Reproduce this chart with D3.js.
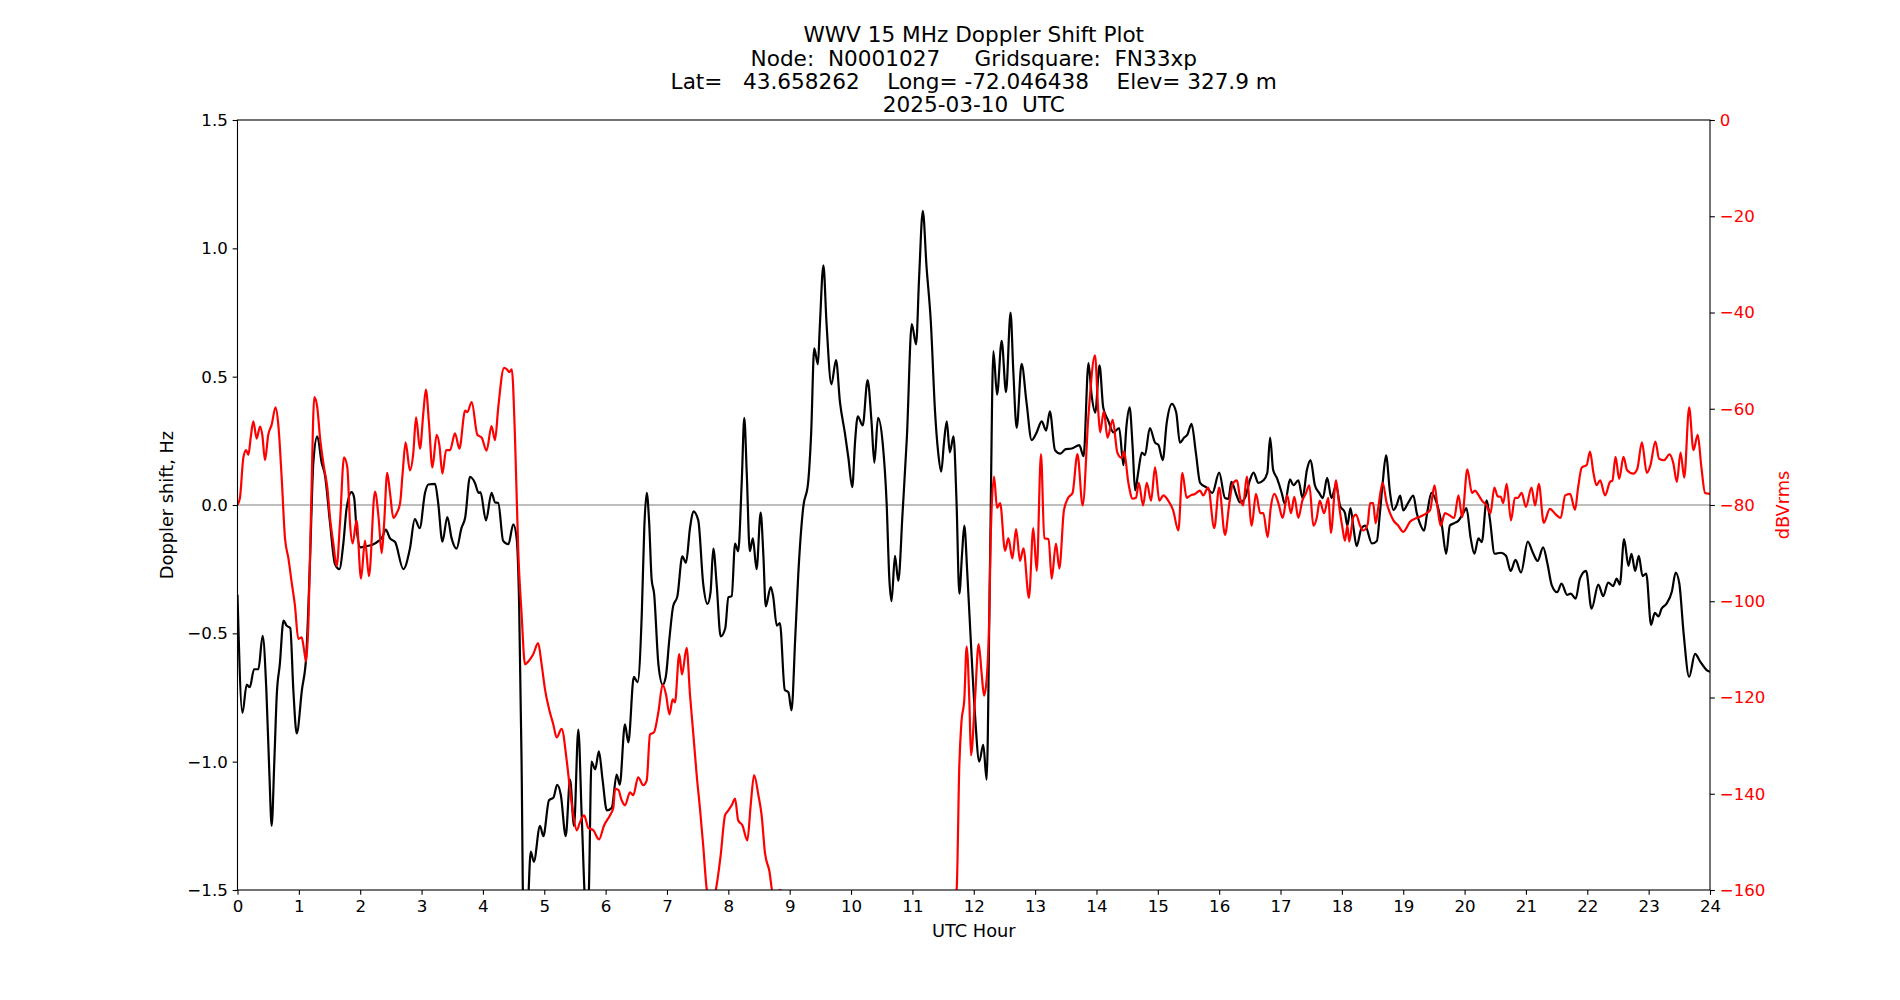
<!DOCTYPE html>
<html>
<head>
<meta charset="utf-8">
<script src="https://cdn.jsdelivr.net/npm/d3@7"></script>
<style>
  body { margin: 0; background: #fff; }
  svg { font-family: "DejaVu Sans", sans-serif; }
  .tick text { font-family: "DejaVu Sans", sans-serif; }
</style>
</head>
<body>
<div id="vis"></div>
<script>
// UTC hour ticks and the two y tick sets
const hourTicks = d3.range(0, 25);
const dopplerTicks = [-1.5, -1.0, -0.5, 0.0, 0.5, 1.0, 1.5];
const powerTicks = [0, -20, -40, -60, -80, -100, -120, -140, -160];

const titleLines = [
  "WWV 15 MHz Doppler Shift Plot",
  "Node:  N0001027     Gridsquare:  FN33xp",
  "Lat=   43.658262    Long= -72.046438    Elev= 327.9 m",
  "2025-03-10  UTC"
];

// Doppler shift (Hz) vs UTC hour
const dopplerHz = [
[0.0,-0.35],[0.08,-0.81],[0.15,-0.70],[0.2,-0.71],[0.27,-0.64],[0.34,-0.64],[0.41,-0.51],[0.47,-0.72],[0.52,-1.05],[0.557,-1.25],[0.6,-1.0],[0.64,-0.74],[0.69,-0.62],[0.75,-0.45],[0.8,-0.47],[0.86,-0.48],[0.91,-0.72],[0.965,-0.89],[1.05,-0.72],[1.12,-0.59],[1.18,-0.23],[1.236,0.165],[1.30,0.267],[1.372,0.165],[1.426,0.116],[1.508,-0.07],[1.589,-0.23],[1.66,-0.25],[1.725,-0.15],[1.78,-0.01],[1.86,0.05],[1.90,0.03],[1.94,-0.09],[2.007,-0.165],[2.1,-0.16],[2.2,-0.155],[2.3,-0.14],[2.36,-0.125],[2.415,-0.096],[2.486,-0.13],[2.57,-0.145],[2.703,-0.25],[2.81,-0.17],[2.89,-0.055],[2.97,-0.09],[3.056,0.047],[3.11,0.08],[3.22,0.082],[3.27,0.01],[3.34,-0.143],[3.42,-0.047],[3.49,-0.13],[3.57,-0.17],[3.65,-0.09],[3.71,-0.05],[3.79,0.11],[3.87,0.086],[3.93,0.047],[3.96,0.05],[4.05,-0.06],[4.14,0.047],[4.2,0.01],[4.25,0.008],[4.33,-0.14],[4.415,-0.153],[4.495,-0.075],[4.55,-0.13],[4.59,-0.385],[4.63,-1.0],[4.66,-1.6],[4.72,-1.6],[4.78,-1.35],[4.83,-1.39],[4.93,-1.25],[4.985,-1.29],[5.077,-1.15],[5.15,-1.14],[5.21,-1.09],[5.27,-1.13],[5.35,-1.29],[5.42,-1.07],[5.485,-1.25],[5.555,-0.875],[5.61,-1.21],[5.68,-1.58],[5.72,-1.55],[5.77,-1.0],[5.83,-1.03],[5.89,-0.96],[5.95,-1.07],[6.02,-1.19],[6.10,-1.18],[6.18,-1.05],[6.23,-1.09],[6.315,-0.855],[6.37,-0.925],[6.46,-0.67],[6.52,-0.69],[6.59,-0.42],[6.63,-0.09],[6.67,0.047],[6.71,-0.07],[6.75,-0.29],[6.79,-0.345],[6.86,-0.62],[6.93,-0.70],[6.98,-0.67],[7.04,-0.52],[7.10,-0.395],[7.17,-0.355],[7.25,-0.2],[7.31,-0.225],[7.375,-0.09],[7.43,-0.025],[7.51,-0.06],[7.59,-0.306],[7.66,-0.385],[7.71,-0.34],[7.755,-0.17],[7.81,-0.31],[7.875,-0.512],[7.95,-0.48],[8.0,-0.36],[8.055,-0.355],[8.11,-0.15],[8.16,-0.18],[8.22,0.1],[8.26,0.34],[8.30,0.125],[8.35,-0.18],[8.40,-0.13],[8.46,-0.25],[8.527,-0.03],[8.57,-0.19],[8.61,-0.395],[8.69,-0.32],[8.73,-0.355],[8.79,-0.47],[8.84,-0.46],[8.92,-0.72],[8.98,-0.73],[9.03,-0.80],[9.09,-0.52],[9.14,-0.27],[9.22,-0.01],[9.30,0.086],[9.35,0.28],[9.40,0.61],[9.46,0.548],[9.49,0.69],[9.55,0.934],[9.60,0.71],[9.68,0.47],[9.755,0.565],[9.82,0.40],[9.90,0.28],[9.956,0.185],[10.02,0.07],[10.065,0.245],[10.11,0.345],[10.19,0.31],[10.27,0.487],[10.335,0.32],[10.38,0.165],[10.44,0.34],[10.515,0.243],[10.58,0.008],[10.624,-0.287],[10.66,-0.375],[10.716,-0.198],[10.77,-0.296],[10.84,-0.03],[10.91,0.263],[10.99,0.705],[11.06,0.626],[11.11,0.89],[11.17,1.146],[11.23,0.93],[11.30,0.715],[11.37,0.36],[11.42,0.205],[11.47,0.13],[11.515,0.244],[11.56,0.326],[11.61,0.205],[11.67,0.267],[11.72,0.008],[11.765,-0.345],[11.81,-0.188],[11.846,-0.08],[11.895,-0.267],[11.95,-0.52],[12.02,-0.816],[12.09,-1.0],[12.155,-0.934],[12.21,-1.07],[12.265,-0.23],[12.32,0.60],[12.38,0.43],[12.455,0.64],[12.526,0.44],[12.60,0.75],[12.645,0.52],[12.70,0.30],[12.78,0.55],[12.86,0.40],[12.944,0.253],[13.026,0.283],[13.107,0.326],[13.18,0.29],[13.24,0.365],[13.324,0.214],[13.41,0.20],[13.50,0.218],[13.596,0.22],[13.72,0.233],[13.79,0.19],[13.87,0.553],[13.92,0.43],[13.98,0.36],[14.05,0.544],[14.11,0.38],[14.19,0.33],[14.275,0.283],[14.37,0.30],[14.44,0.155],[14.49,0.31],[14.54,0.38],[14.59,0.224],[14.63,0.057],[14.68,0.126],[14.74,0.204],[14.79,0.194],[14.87,0.30],[14.955,0.243],[15.01,0.234],[15.08,0.175],[15.145,0.32],[15.23,0.394],[15.30,0.36],[15.36,0.243],[15.43,0.263],[15.48,0.273],[15.55,0.316],[15.62,0.204],[15.69,0.086],[15.80,0.067],[15.89,0.047],[16.0,0.126],[16.095,0.027],[16.15,0.024],[16.20,0.09],[16.285,0.037],[16.34,0.01],[16.42,0.027],[16.50,0.096],[16.56,0.126],[16.64,0.086],[16.72,0.096],[16.785,0.126],[16.83,0.263],[16.88,0.136],[16.94,0.106],[17.02,0.047],[17.07,0.004],[17.155,0.10],[17.21,0.077],[17.29,0.096],[17.36,0.027],[17.43,0.136],[17.49,0.175],[17.56,0.077],[17.63,0.047],[17.69,0.027],[17.76,0.106],[17.83,0.027],[17.905,0.077],[17.97,-0.002],[18.05,-0.031],[18.09,-0.08],[18.14,-0.012],[18.19,-0.09],[18.24,-0.16],[18.32,-0.09],[18.38,-0.08],[18.49,-0.15],[18.57,-0.14],[18.62,-0.031],[18.665,0.086],[18.72,0.193],[18.785,0.047],[18.84,-0.02],[18.89,-0.002],[18.95,0.037],[19.0,-0.021],[19.08,0.008],[19.165,0.037],[19.22,-0.031],[19.27,-0.071],[19.34,-0.1],[19.39,-0.031],[19.46,0.047],[19.545,0.008],[19.63,-0.08],[19.70,-0.19],[19.76,-0.08],[19.83,-0.071],[19.90,-0.061],[19.98,-0.031],[20.03,-0.012],[20.10,-0.13],[20.16,-0.19],[20.225,-0.13],[20.28,-0.145],[20.36,0.018],[20.41,-0.051],[20.49,-0.19],[20.59,-0.186],[20.675,-0.198],[20.75,-0.257],[20.83,-0.214],[20.92,-0.263],[21.03,-0.143],[21.11,-0.184],[21.19,-0.218],[21.28,-0.165],[21.35,-0.228],[21.42,-0.312],[21.51,-0.34],[21.58,-0.306],[21.67,-0.35],[21.73,-0.345],[21.81,-0.365],[21.88,-0.287],[21.98,-0.257],[22.07,-0.404],[22.18,-0.31],[22.26,-0.355],[22.34,-0.302],[22.42,-0.316],[22.48,-0.287],[22.53,-0.31],[22.60,-0.133],[22.67,-0.237],[22.72,-0.19],[22.78,-0.257],[22.84,-0.198],[22.90,-0.277],[22.96,-0.267],[23.04,-0.467],[23.10,-0.42],[23.16,-0.434],[23.21,-0.404],[23.29,-0.385],[23.38,-0.336],[23.44,-0.263],[23.50,-0.306],[23.57,-0.50],[23.66,-0.67],[23.756,-0.58],[23.84,-0.61],[23.95,-0.644],[24.0,-0.65]
];

// received power (dBVrms) vs UTC hour
const powerDb = [
[0.0,-80],[0.04,-78.5],[0.095,-70.2],[0.14,-68.6],[0.177,-69.6],[0.215,-66],[0.258,-62.6],[0.312,-66.2],[0.367,-63.7],[0.405,-65.5],[0.448,-70.7],[0.50,-65.5],[0.557,-63.3],[0.62,-59.7],[0.665,-63.3],[0.72,-74.3],[0.774,-86.9],[0.83,-91.1],[0.88,-95.8],[0.937,-101],[0.99,-107.8],[1.046,-107.5],[1.084,-110],[1.117,-112.5],[1.155,-104.7],[1.198,-81.7],[1.252,-57.6],[1.30,-59.7],[1.345,-66],[1.41,-72.2],[1.464,-76.4],[1.508,-82.7],[1.562,-88],[1.616,-92.7],[1.67,-83.8],[1.736,-70.1],[1.79,-72.2],[1.834,-83.8],[1.877,-88],[1.94,-83.2],[2.013,-95.3],[2.078,-87.4],[2.143,-94.8],[2.24,-77.2],[2.30,-82.7],[2.35,-90],[2.39,-83.8],[2.44,-73.3],[2.486,-77.5],[2.54,-82.7],[2.594,-81.7],[2.65,-79.6],[2.692,-73.3],[2.74,-67],[2.81,-72.8],[2.866,-69.1],[2.91,-61.8],[2.974,-68.3],[3.03,-60.7],[3.07,-56],[3.12,-62.8],[3.176,-72.2],[3.246,-65.4],[3.29,-67.5],[3.34,-73.5],[3.40,-68.6],[3.464,-68.6],[3.545,-65.1],[3.616,-68.3],[3.71,-60.4],[3.746,-60.7],[3.817,-58.6],[3.909,-65.4],[3.98,-66],[4.06,-68.7],[4.14,-63.6],[4.197,-66.5],[4.25,-59.7],[4.344,-51.5],[4.39,-51.8],[4.43,-52.4],[4.47,-51.8],[4.523,-66],[4.577,-90],[4.63,-102.6],[4.686,-113.1],[4.74,-112.5],[4.82,-111],[4.90,-108.7],[4.957,-113.1],[5.012,-118.3],[5.08,-122.5],[5.147,-125.6],[5.202,-128.3],[5.283,-126.5],[5.365,-133],[5.42,-139.2],[5.474,-144.5],[5.53,-147.6],[5.58,-146],[5.65,-144.5],[5.718,-147.1],[5.80,-147.6],[5.892,-149.5],[5.974,-146.6],[6.07,-144.5],[6.126,-142.9],[6.153,-139],[6.207,-139.2],[6.26,-141.3],[6.316,-142.4],[6.397,-139.7],[6.45,-140.3],[6.53,-136.6],[6.614,-138.2],[6.67,-137.2],[6.723,-127.7],[6.79,-127.2],[6.86,-123],[6.93,-117.3],[6.984,-119.4],[7.04,-123.5],[7.093,-120.4],[7.13,-121],[7.20,-111],[7.245,-115.2],[7.32,-109.7],[7.375,-119.4],[7.43,-127.7],[7.484,-136.1],[7.54,-143.4],[7.59,-150.7],[7.65,-160],[7.72,-163],[7.80,-159.7],[7.875,-152.8],[7.946,-144.5],[7.985,-143.7],[8.055,-142.4],[8.11,-141],[8.16,-145.5],[8.23,-146.6],[8.31,-149.7],[8.364,-142.4],[8.42,-136.1],[8.49,-140.3],[8.543,-144.5],[8.597,-152.3],[8.668,-156],[8.73,-161],[8.85,-160],[8.95,-164],[9.5,-170],[10.5,-172],[11.4,-168],[11.72,-160],[11.765,-134],[11.80,-125],[11.846,-120.4],[11.884,-109.4],[11.93,-121.4],[11.955,-132],[12.02,-120.4],[12.08,-108.9],[12.13,-115.2],[12.167,-119.6],[12.21,-116.3],[12.254,-102.6],[12.276,-87],[12.33,-74.1],[12.38,-80.6],[12.43,-79.6],[12.51,-89.5],[12.564,-86.9],[12.63,-91.1],[12.69,-85],[12.754,-91.6],[12.81,-89],[12.90,-99.3],[12.97,-84.8],[13.026,-93.7],[13.096,-69.4],[13.15,-86.9],[13.22,-87.1],[13.27,-95.3],[13.34,-88],[13.395,-93.2],[13.47,-81.1],[13.54,-78.5],[13.61,-77.5],[13.69,-69.4],[13.775,-80.1],[13.87,-61.3],[13.976,-48.9],[14.03,-60.7],[14.06,-64.9],[14.12,-60.5],[14.18,-66],[14.265,-62.3],[14.34,-69.1],[14.41,-70.2],[14.45,-68.9],[14.52,-75.4],[14.59,-78.7],[14.645,-78.5],[14.69,-75.4],[14.76,-80.1],[14.82,-75.4],[14.89,-79.1],[14.955,-72.2],[15.025,-79.1],[15.09,-78],[15.17,-79.1],[15.25,-81.1],[15.335,-85.3],[15.40,-73.3],[15.47,-78.5],[15.536,-78],[15.606,-77.7],[15.687,-77],[15.74,-78],[15.82,-76.4],[15.92,-84.8],[16.0,-76.4],[16.095,-86.2],[16.166,-79.6],[16.22,-75.6],[16.29,-74.9],[16.34,-78.5],[16.39,-80.1],[16.45,-74.1],[16.53,-84.3],[16.60,-77.7],[16.67,-81.7],[16.72,-81.7],[16.79,-86.7],[16.84,-80.6],[16.90,-77.7],[16.965,-79.6],[17.035,-82.7],[17.11,-78],[17.17,-81.7],[17.225,-78.3],[17.29,-82.7],[17.356,-79.1],[17.415,-77.5],[17.47,-75.9],[17.535,-84.3],[17.59,-82.7],[17.64,-79.1],[17.71,-81.7],[17.78,-78.5],[17.82,-85.8],[17.905,-74.9],[17.96,-80.6],[18.01,-84.8],[18.05,-87.4],[18.09,-84.3],[18.12,-87.6],[18.187,-82.5],[18.23,-82],[18.296,-84.3],[18.35,-85.3],[18.42,-84],[18.46,-79.6],[18.51,-79.6],[18.55,-83.8],[18.59,-80.8],[18.665,-75.4],[18.73,-79.6],[18.785,-81.7],[18.84,-83.2],[18.92,-84.3],[19.0,-85.6],[19.06,-84.6],[19.11,-83.5],[19.22,-82.7],[19.317,-82.2],[19.38,-81.7],[19.437,-81.1],[19.51,-75.9],[19.56,-80.6],[19.61,-84.3],[19.68,-81.7],[19.76,-82.2],[19.83,-82.7],[19.90,-78],[19.96,-82.5],[20.045,-72.6],[20.12,-77.5],[20.17,-77],[20.22,-77.8],[20.29,-79.2],[20.36,-80.1],[20.42,-81.8],[20.485,-76.4],[20.54,-78.2],[20.59,-78.3],[20.63,-79.6],[20.686,-75.6],[20.756,-83.2],[20.82,-78.5],[20.87,-78.5],[20.93,-77.5],[21.0,-80.4],[21.09,-76.4],[21.15,-80.1],[21.21,-75.6],[21.29,-83.7],[21.39,-80.8],[21.49,-82],[21.566,-82.7],[21.64,-78],[21.72,-77.7],[21.80,-81],[21.85,-76.4],[21.91,-72.2],[21.99,-71.7],[22.044,-68.9],[22.10,-73.3],[22.15,-75.9],[22.21,-74.9],[22.29,-78],[22.37,-75.2],[22.41,-74.9],[22.46,-70],[22.52,-74.6],[22.59,-70],[22.65,-72.8],[22.75,-73.5],[22.815,-72.5],[22.89,-67],[22.97,-73.3],[23.03,-71.7],[23.11,-66.8],[23.17,-70.4],[23.25,-70.7],[23.34,-69.5],[23.40,-71.2],[23.46,-75.2],[23.52,-69.1],[23.58,-74.3],[23.66,-59.7],[23.73,-68.6],[23.80,-65.4],[23.86,-72.2],[23.92,-77.5],[24.0,-77.7]
];

const FRAME_WIDTH = 1900;
const FRAME_HEIGHT = 1000;
const MARGINS = {left: 237.5, right: 190, top: 120, bottom: 110};
const VIS_WIDTH = FRAME_WIDTH - MARGINS.left - MARGINS.right;
const VIS_HEIGHT = FRAME_HEIGHT - MARGINS.top - MARGINS.bottom;
const TICK_FONT = "16.67px";
const LABEL_FONT = "17.8px";

const svg = d3.select("#vis")
  .append("svg")
  .attr("width", FRAME_WIDTH)
  .attr("height", FRAME_HEIGHT);

const X_SCALE = d3.scaleLinear().domain([0, 24]).range([0, VIS_WIDTH]);
const Y_SCALE = d3.scaleLinear().domain([-1.5, 1.5]).range([VIS_HEIGHT, 0]);
const Y2_SCALE = d3.scaleLinear().domain([-160, 0]).range([VIS_HEIGHT, 0]);

const minus = (s) => s.replace("-", "\u2212");

const plot = svg.append("g")
  .attr("transform", `translate(${MARGINS.left},${MARGINS.top})`);

plot.append("clipPath").attr("id", "clip")
  .append("rect").attr("width", VIS_WIDTH).attr("height", VIS_HEIGHT);

// zero line
plot.append("line")
  .attr("x1", 0).attr("x2", VIS_WIDTH)
  .attr("y1", Y_SCALE(0)).attr("y2", Y_SCALE(0))
  .attr("stroke", "#7f7f7f").attr("stroke-width", 1.1);

const lineDoppler = d3.line()
  .x(d => X_SCALE(d[0])).y(d => Y_SCALE(d[1]))
  .curve(d3.curveMonotoneX);
const linePower = d3.line()
  .x(d => X_SCALE(d[0])).y(d => Y2_SCALE(d[1]))
  .curve(d3.curveMonotoneX);

const lines = plot.append("g").attr("clip-path", "url(#clip)");
lines.append("path").datum(dopplerHz)
  .attr("d", lineDoppler)
  .attr("fill", "none").attr("stroke", "black")
  .attr("stroke-width", 2.2).attr("stroke-linejoin", "round");
lines.append("path").datum(powerDb)
  .attr("d", linePower)
  .attr("fill", "none").attr("stroke", "red")
  .attr("stroke-width", 2.2).attr("stroke-linejoin", "round");

// axes
function styleAxis(g, color) {
  g.select(".domain").remove();
  g.selectAll(".tick line").attr("stroke", "black").attr("stroke-width", 1.1);
  g.selectAll(".tick text").attr("fill", color).style("font-size", TICK_FONT);
}

plot.append("g")
  .attr("transform", `translate(0,${VIS_HEIGHT})`)
  .call(d3.axisBottom(X_SCALE).tickValues(hourTicks).tickFormat(d3.format("d"))
        .tickSize(4.86).tickPadding(4.86))
  .call(g => styleAxis(g, "black"));

plot.append("g")
  .call(d3.axisLeft(Y_SCALE).tickValues(dopplerTicks)
        .tickFormat(d => minus(d3.format(".1f")(d)))
        .tickSize(4.86).tickPadding(4.86))
  .call(g => styleAxis(g, "black"));

plot.append("g")
  .attr("transform", `translate(${VIS_WIDTH},0)`)
  .call(d3.axisRight(Y2_SCALE).tickValues(powerTicks)
        .tickFormat(d => minus(String(d)))
        .tickSize(4.86).tickPadding(4.86))
  .call(g => styleAxis(g, "red"));

// frame
plot.append("rect")
  .attr("width", VIS_WIDTH).attr("height", VIS_HEIGHT)
  .attr("fill", "none").attr("stroke", "black").attr("stroke-width", 1.1);

// labels
svg.append("text")
  .attr("x", MARGINS.left + VIS_WIDTH / 2).attr("y", 937)
  .attr("text-anchor", "middle").style("font-size", LABEL_FONT)
  .text("UTC Hour");

svg.append("text")
  .attr("transform", `translate(173,${MARGINS.top + VIS_HEIGHT / 2}) rotate(-90)`)
  .attr("text-anchor", "middle").style("font-size", LABEL_FONT)
  .text("Doppler shift, Hz");

svg.append("text")
  .attr("transform", `translate(1789,${MARGINS.top + VIS_HEIGHT / 2}) rotate(-90)`)
  .attr("text-anchor", "middle").style("font-size", LABEL_FONT)
  .attr("fill", "red")
  .text("dBVrms");

// title
svg.append("g").selectAll("text")
  .data(titleLines)
  .enter()
  .append("text")
    .attr("x", MARGINS.left + VIS_WIDTH / 2)
    .attr("y", (d, i) => 42.3 + i * 23.3)
    .attr("text-anchor", "middle")
    .style("font-size", "21.6px")
    .style("white-space", "pre")
    .text(d => d);
</script>
</body>
</html>
